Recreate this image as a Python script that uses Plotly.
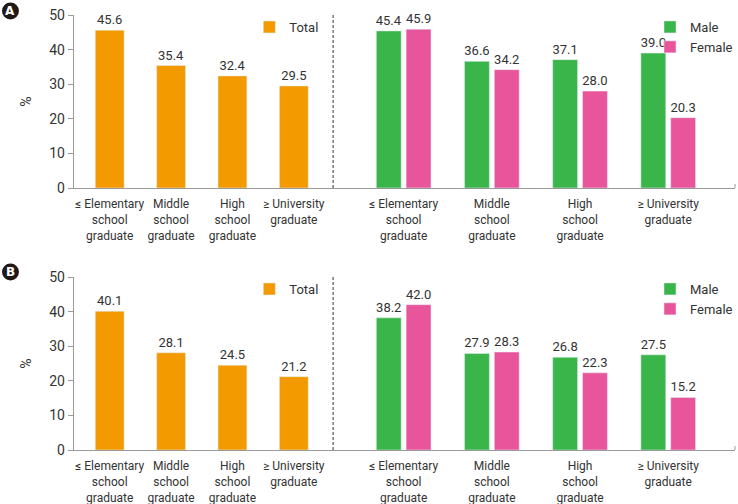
import plotly.graph_objects as go

categories = ["≤ Elementary<br>school<br>graduate", "Middle<br>school<br>graduate",
              "High<br>school<br>graduate", "≥ University<br>graduate"]
cat_keys = ["elem", "middle", "high", "univ"]

total_A = [45.6, 35.4, 32.4, 29.5]
male_A = [45.4, 36.6, 37.1, 39.0]
female_A = [45.9, 34.2, 28.0, 20.3]

total_B = [40.1, 28.1, 24.5, 21.2]
male_B = [38.2, 27.9, 26.8, 27.5]
female_B = [42.0, 28.3, 22.3, 15.2]

y_ticks = [0, 10, 20, 30, 40, 50]

ORANGE = "#F39A00"
GREEN = "#3AB54A"
PINK = "#E9559B"
TXT = "#333333"
FONT = "Roboto, Arial, sans-serif"

W, H = 738, 504
def px_x(p): return p / W
def px_y(p): return 1 - p / H

fig = go.Figure()

panels = [
    dict(total=total_A, male=male_A, female=female_A, top=15, bot=188, ax=("", "2"), lg=("legend", "legend2")),
    dict(total=total_B, male=male_B, female=female_B, top=277, bot=450, ax=("3", "4"), lg=("legend3", "legend4")),
]

x_left0, x_split, x_right1 = 74, 334, 737

for i, p in enumerate(panels):
    axl, axr = p["ax"]
    tf = dict(size=13, color=TXT, family=FONT)
    fig.add_trace(go.Bar(
        x=cat_keys, y=p["total"], name="Total", marker_color=ORANGE,
        width=0.47, text=[f"{v:.1f}" for v in p["total"]], textposition="outside",
        textfont=tf, cliponaxis=False, constraintext="none",
        xaxis="x" + axl, yaxis="y" + axl, legend=p["lg"][0], showlegend=True,
    ))
    fig.add_trace(go.Bar(
        x=cat_keys, y=p["male"], name="Male", marker_color=GREEN,
        width=0.282, offset=-0.31, text=[f"{v:.1f}" for v in p["male"]], textposition="outside",
        textfont=tf, cliponaxis=False, constraintext="none",
        xaxis="x" + axr, yaxis="y" + axr, legend=p["lg"][1], showlegend=True,
    ))
    fig.add_trace(go.Bar(
        x=cat_keys, y=p["female"], name="Female", marker_color=PINK,
        width=0.282, offset=0.028, text=[f"{v:.1f}" for v in p["female"]], textposition="outside",
        textfont=tf, cliponaxis=False, constraintext="none",
        xaxis="x" + axr, yaxis="y" + axr, legend=p["lg"][1], showlegend=True,
    ))

    ydom = [px_y(p["bot"]), px_y(p["top"])]
    xcommon = dict(type="category", categoryorder="array", categoryarray=cat_keys,
                   tickvals=cat_keys, ticktext=categories, showline=True, linecolor="#9a9a9a",
                   linewidth=1, ticks="", showgrid=False, zeroline=False, tickangle=0,
                   automargin=False, ticklabelstandoff=5,
                   tickfont=dict(size=12, color=TXT, family=FONT), fixedrange=True)
    ycommon = dict(range=[0, 50], domain=ydom, showgrid=False, zeroline=False,
                   fixedrange=True, automargin=False)
    fig.update_layout(**{
        "xaxis" + axl: dict(xcommon, domain=[px_x(x_left0), px_x(x_split)], range=[-0.585, 3.64],
                            anchor="y" + axl),
        "xaxis" + axr: dict(xcommon, domain=[px_x(x_split), px_x(x_right1)], range=[-0.8, 3.757],
                            anchor="y" + axr),
        "yaxis" + axl: dict(ycommon, anchor="x" + axl, showline=True, linecolor="#9a9a9a",
                            ticks="outside", ticklen=5, tickcolor="#9a9a9a", tickvals=y_ticks,
                            tickfont=dict(size=14, color=TXT, family=FONT),
                            title=dict(text="%", font=dict(size=14, color=TXT, family=FONT), standoff=14)),
        "yaxis" + axr: dict(ycommon, anchor="x" + axr, showline=False, showticklabels=False, ticks=""),
    })
    # dashed separator
    fig.add_shape(type="line", xref=f"x{axr} domain", yref=f"y{axr} domain",
                  x0=0, x1=0, y0=0, y1=1, line=dict(color="#333333", width=1, dash="3px,2px"))
    # small end tick at right end of axis
    fig.add_shape(type="line", xref=f"x{axr} domain", yref="paper",
                  x0=1, x1=1, y0=px_y(p["bot"]), y1=px_y(p["bot"] - 4),
                  line=dict(color="#9a9a9a", width=1))
    # panel badge
    cy = 11 if i == 0 else 272
    fig.add_shape(type="circle", xref="paper", yref="paper",
                  x0=px_x(2), x1=px_x(19), y0=px_y(cy + 8.5), y1=px_y(cy - 8.5),
                  fillcolor="#231815", line=dict(width=0))
    fig.add_annotation(x=px_x(10.5), y=px_y(cy), xref="paper", yref="paper",
                       text="<b>" + ("A" if i == 0 else "B") + "</b>", showarrow=False,
                       font=dict(size=12, color="white", family="DejaVu Sans, sans-serif"),
                       xanchor="center", yanchor="middle")

legend_common = dict(font=dict(size=13, color=TXT, family=FONT), bgcolor="rgba(0,0,0,0)",
                     itemwidth=30, tracegroupgap=0, xanchor="left", yanchor="top",
                     xref="paper", yref="paper", itemclick=False, itemdoubleclick=False)
fig.update_layout(
    legend=dict(legend_common, x=px_x(250), y=px_y(12)),
    legend2=dict(legend_common, x=px_x(652), y=px_y(12)),
    legend3=dict(legend_common, x=px_x(250), y=px_y(274)),
    legend4=dict(legend_common, x=px_x(652), y=px_y(274)),
    width=W, height=H, autosize=False,
    margin=dict(l=0, r=0, t=0, b=0),
    paper_bgcolor="white", plot_bgcolor="white",
    barmode="overlay", showlegend=True,
    font=dict(family=FONT, color=TXT),
)

fig.write_html("out.html", config={"displayModeBar": False},
               post_script="document.body.style.margin='0';")
